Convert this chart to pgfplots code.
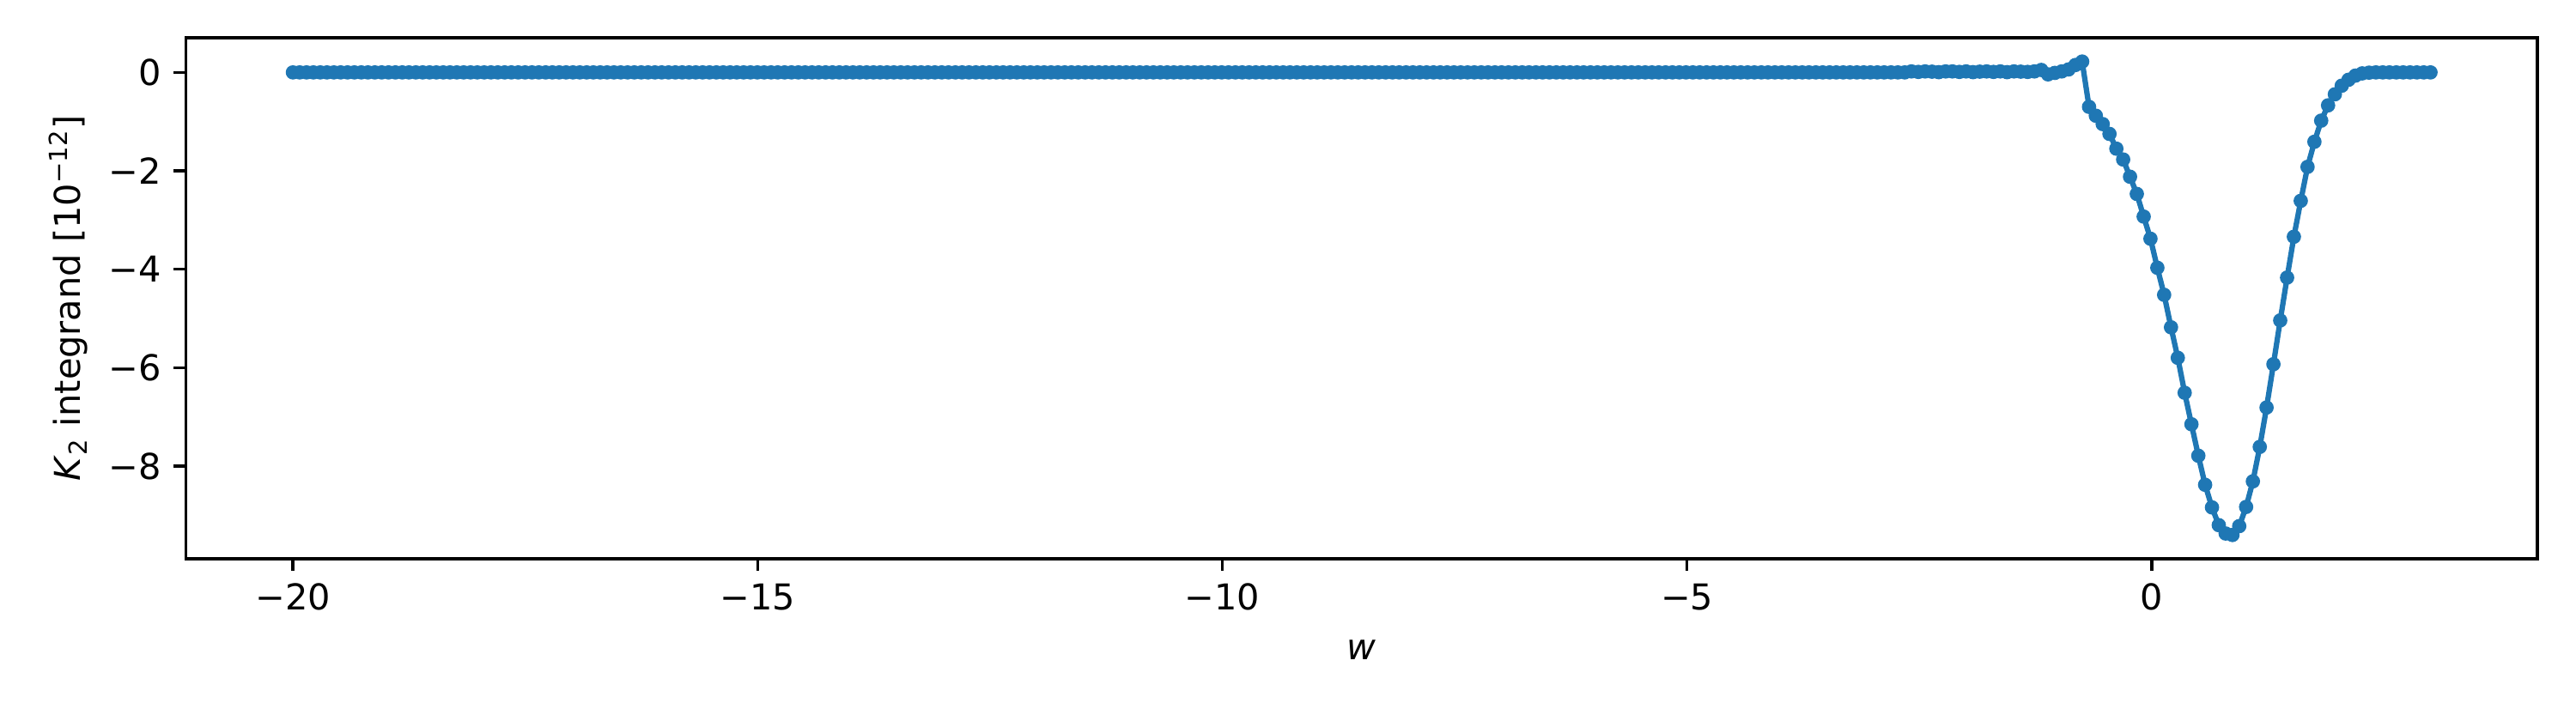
\documentclass[border=0pt]{standalone}
\usepackage{fontspec}
\setmainfont{DejaVu Sans}
\usepackage{pgfplots}
\pgfplotsset{compat=1.18}
\definecolor{mplblue}{RGB}{31,119,180}
\begin{document}
\begin{tikzpicture}
\begin{axis}[
  at={(0,0)}, anchor=south west,
  scale only axis, width=657.2bp, height=145.6bp,
  xmin=-21.15, xmax=4.15, ymin=-9.881, ymax=0.701,
  axis line style={line width=0.8bp},
  xtick={-20,-15,-10,-5,0}, xticklabels={−20,−15,−10,−5,0},
  ytick={-8,-6,-4,-2,0}, yticklabels={−8,−6,−4,−2,0},
  tick align=outside, xtick pos=left, ytick pos=left,
  major tick length=3.5bp,
  every tick/.style={black, line width=0.8bp},
  tick label style={font=\fontsize{10}{12}\selectfont},
  label style={font=\fontsize{10}{12}\selectfont},
  xlabel={\textit{w}},
  ylabel={\textit{K}\textsubscript{2} integrand [10\textsuperscript{−12}]},
  xlabel style={at={(axis description cs:0.5,-0.175)}, anchor=center},
  ylabel style={at={(axis description cs:-0.05,0.5)}, anchor=center},
]
\addplot[color=mplblue, line width=1.5bp, mark=*, mark size=1.5bp, mark options={line width=1bp}] coordinates {
(-20.000,0) (-19.927,0) (-19.853,0) (-19.780,0) (-19.706,0) (-19.633,0) (-19.559,0) (-19.486,0) (-19.412,0) (-19.339,0)
(-19.265,0) (-19.192,0) (-19.118,0) (-19.045,0) (-18.971,0) (-18.898,0) (-18.824,0) (-18.751,0) (-18.677,0) (-18.604,0)
(-18.530,0) (-18.457,0) (-18.383,0) (-18.310,0) (-18.236,0) (-18.163,0) (-18.089,0) (-18.016,0) (-17.942,0) (-17.869,0)
(-17.796,0) (-17.722,0) (-17.649,0) (-17.575,0) (-17.502,0) (-17.428,0) (-17.355,0) (-17.281,0) (-17.208,0) (-17.134,0)
(-17.061,0) (-16.987,0) (-16.914,0) (-16.840,0) (-16.767,0) (-16.693,0) (-16.620,0) (-16.546,0) (-16.473,0) (-16.399,0)
(-16.326,0) (-16.252,0) (-16.179,0) (-16.105,0) (-16.032,0) (-15.958,0) (-15.885,0) (-15.812,0) (-15.738,0) (-15.665,0)
(-15.591,0) (-15.518,0) (-15.444,0) (-15.371,0) (-15.297,0) (-15.224,0) (-15.150,0) (-15.077,0) (-15.003,0) (-14.930,0)
(-14.856,0) (-14.783,0) (-14.709,0) (-14.636,0) (-14.562,0) (-14.489,0) (-14.415,0) (-14.342,0) (-14.268,0) (-14.195,0)
(-14.121,0) (-14.048,0) (-13.974,0) (-13.901,0) (-13.827,0) (-13.754,0) (-13.681,0) (-13.607,0) (-13.534,0) (-13.460,0)
(-13.387,0) (-13.313,0) (-13.240,0) (-13.166,0) (-13.093,0) (-13.019,0) (-12.946,0) (-12.872,0) (-12.799,0) (-12.725,0)
(-12.652,0) (-12.578,0) (-12.505,0) (-12.431,0) (-12.358,0) (-12.284,0) (-12.211,0) (-12.137,0) (-12.064,0) (-11.990,0)
(-11.917,0) (-11.843,0) (-11.770,0) (-11.696,0) (-11.623,0) (-11.550,0) (-11.476,0) (-11.403,0) (-11.329,0) (-11.256,0)
(-11.182,0) (-11.109,0) (-11.035,0) (-10.962,0) (-10.888,0) (-10.815,0) (-10.741,0) (-10.668,0) (-10.594,0) (-10.521,0)
(-10.447,0) (-10.374,0) (-10.300,0) (-10.227,0) (-10.153,0) (-10.080,0) (-10.006,0) (-9.933,0) (-9.859,0) (-9.786,0)
(-9.712,0) (-9.639,0) (-9.565,0) (-9.492,0) (-9.419,0) (-9.345,0) (-9.272,0) (-9.198,0) (-9.125,0) (-9.051,0)
(-8.978,0) (-8.904,0) (-8.831,0) (-8.757,0) (-8.684,0) (-8.610,0) (-8.537,0) (-8.463,0) (-8.390,0) (-8.316,0)
(-8.243,0) (-8.169,0) (-8.096,0) (-8.022,0) (-7.949,0) (-7.875,0) (-7.802,0) (-7.728,0) (-7.655,0) (-7.581,0)
(-7.508,0) (-7.435,0) (-7.361,0) (-7.288,0) (-7.214,0) (-7.141,0) (-7.067,0) (-6.994,0) (-6.920,0) (-6.847,0)
(-6.773,0) (-6.700,0) (-6.626,0) (-6.553,0) (-6.479,0) (-6.406,0) (-6.332,0) (-6.259,0) (-6.185,0) (-6.112,0)
(-6.038,0) (-5.965,0) (-5.891,0) (-5.818,0) (-5.744,0) (-5.671,0) (-5.597,0) (-5.524,0) (-5.450,0) (-5.377,0)
(-5.304,0) (-5.230,0) (-5.157,0) (-5.083,0) (-5.010,0) (-4.936,0) (-4.863,0) (-4.789,0) (-4.716,0) (-4.642,0)
(-4.569,0) (-4.495,0) (-4.422,0) (-4.348,0) (-4.275,0) (-4.201,0) (-4.128,0) (-4.054,0) (-3.981,0) (-3.907,0)
(-3.834,0) (-3.760,0) (-3.687,0) (-3.613,0) (-3.540,0) (-3.466,0) (-3.393,0) (-3.319,0) (-3.246,0) (-3.173,0)
(-3.099,0) (-3.026,0) (-2.952,0) (-2.879,0) (-2.805,0) (-2.732,0) (-2.658,0) (-2.585,0.02) (-2.511,0.01) (-2.438,0.02)
(-2.364,0.015) (-2.291,0.005) (-2.217,0.02) (-2.144,0.02) (-2.070,0.01) (-1.997,0.02) (-1.923,0.005) (-1.850,0.015) (-1.776,0.02) (-1.703,0.01)
(-1.629,0.02) (-1.556,0.005) (-1.482,0.02) (-1.409,0.015) (-1.335,0.01) (-1.262,0.02) (-1.188,0.05) (-1.115,-0.04) (-1.042,-0.01) (-0.968,0.02)
(-0.895,0.06) (-0.821,0.15) (-0.748,0.22) (-0.674,-0.70) (-0.601,-0.88) (-0.527,-1.05) (-0.454,-1.25) (-0.380,-1.55) (-0.307,-1.77) (-0.233,-2.12)
(-0.160,-2.47) (-0.086,-2.93) (-0.013,-3.38) (0.061,-3.97) (0.134,-4.52) (0.208,-5.18) (0.281,-5.80) (0.355,-6.51) (0.428,-7.15) (0.502,-7.79)
(0.575,-8.38) (0.649,-8.84) (0.722,-9.20) (0.796,-9.37) (0.869,-9.40) (0.942,-9.22) (1.016,-8.83) (1.089,-8.31) (1.163,-7.61) (1.236,-6.81)
(1.310,-5.93) (1.383,-5.04) (1.457,-4.17) (1.530,-3.34) (1.604,-2.61) (1.677,-1.92) (1.751,-1.41) (1.824,-0.98) (1.898,-0.67) (1.971,-0.445)
(2.045,-0.27) (2.118,-0.15) (2.192,-0.065) (2.265,-0.02) (2.339,-0.005) (2.412,0) (2.486,0) (2.559,0) (2.633,0) (2.706,0)
(2.780,0) (2.853,0) (2.927,0) (3.000,0)
};
\end{axis}
\pgfresetboundingbox
\path[use as bounding box] (-52bp,-41.8bp) rectangle (668bp,156.2bp);
\end{tikzpicture}
\end{document}
